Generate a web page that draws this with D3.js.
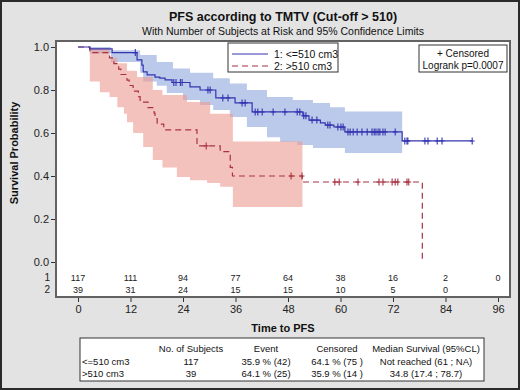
<!DOCTYPE html>
<html>
<head>
<meta charset="utf-8">
<script src="https://cdn.jsdelivr.net/npm/d3@7"></script>
<style>
  html, body { margin: 0; padding: 0; background: #fff; }
  svg { display: block; font-family: "Liberation Sans", Arial, sans-serif; }
</style>
</head>
<body>
<div id="chart"></div>
<script>
// ---- data ----
const xTicks = [0, 12, 24, 36, 48, 60, 72, 84, 96];
const yTicks = [0.0, 0.2, 0.4, 0.6, 0.8, 1.0];

const groupLabels = ['1: <=510 cm3', '2: >510 cm3'];

// group 1 (<=510 cm3) step curve
const blueT = [0, 2.7, 7.8, 13.5, 14.6, 14.9, 15.8, 17.6, 18.7, 19.9, 21.5, 25.6, 27.9, 31.5, 35.9, 39.8, 51.4, 52.8, 55.4, 56.5, 58.5, 61.0, 74.1, 90.1];
const blueS = [1.0, 0.991, 0.974, 0.940, 0.916, 0.884, 0.870, 0.860, 0.855, 0.847, 0.835, 0.815, 0.800, 0.763, 0.740, 0.698, 0.680, 0.660, 0.647, 0.637, 0.628, 0.605, 0.563, 0.563];
const blueCens = [13.1, 21.9, 22.4, 23.4, 23.8, 29.7, 30.2, 33.1, 34.3, 37.5, 38.2, 40.5, 41.1, 42.1, 44.6, 47.3, 50.1, 50.7, 51.6, 52.1, 53.5, 54.6, 57.1, 57.6, 59.4, 60.1, 60.6, 61.7, 62.2, 62.9, 63.8, 64.9, 66.1, 67.2, 67.7, 68.1, 68.6, 69.0, 69.7, 70.2, 72.5, 74.7, 75.2, 75.4, 79.3, 80.0, 82.1, 83.2, 90.1];
const blueBandT  = [2.7, 7.5, 14.2, 14.9, 18.0, 20.3, 21.7, 24.0, 25.6, 27.9, 30.9, 34.7, 38.6, 43.2, 46.2, 49.1, 50.1, 53.7, 57.6, 61.0, 74.1];
const blueBandLo = [0.97, 0.93, 0.88, 0.84, 0.82, 0.786, 0.786, 0.753, 0.753, 0.73, 0.707, 0.674, 0.628, 0.58, 0.558, 0.558, 0.544, 0.53, 0.53, 0.507, 0.507];
const blueBandHi = [1.0, 0.985, 0.963, 0.963, 0.93, 0.93, 0.90, 0.90, 0.88, 0.88, 0.855, 0.83, 0.80, 0.767, 0.767, 0.753, 0.753, 0.74, 0.72, 0.70, 0.70];

// group 2 (>510 cm3) step curve
const redT = [0, 2.7, 7.2, 8.2, 9.3, 9.8, 11.2, 11.7, 12.6, 13.8, 14.2, 16.0, 17.4, 17.6, 18.1, 19.6, 27.2, 32.5, 34.8, 35.3, 51.3, 78.7];
const redS = [1.0, 0.974, 0.949, 0.923, 0.897, 0.872, 0.846, 0.821, 0.795, 0.769, 0.744, 0.718, 0.692, 0.667, 0.641, 0.615, 0.540, 0.513, 0.440, 0.400, 0.372, 0.0];
const redCens = [29.3, 48.7, 51.2, 58.7, 59.7, 64.0, 68.8, 69.7, 71.8, 72.5, 73.1, 75.2, 75.6];
const redBandT  = [2.7, 5.0, 7.2, 9.0, 10.5, 11.2, 12.6, 13.5, 14.9, 17.1, 19.3, 22.6, 24.9, 25.6, 29.5, 30.2, 32.5, 35.4, 51.3];
const redBandLo = [0.84, 0.79, 0.767, 0.72, 0.69, 0.65, 0.60, 0.60, 0.535, 0.475, 0.44, 0.395, 0.395, 0.38, 0.367, 0.367, 0.35, 0.256, 0.256];
const redBandHi = [0.995, 0.995, 0.95, 0.925, 0.925, 0.89, 0.89, 0.86, 0.86, 0.80, 0.777, 0.777, 0.744, 0.744, 0.744, 0.69, 0.69, 0.56, 0.56];

// number at risk at each x tick
const atRisk1 = [117, 111, 94, 77, 64, 38, 16, 2, 0];
const atRisk2 = [39, 31, 24, 15, 15, 10, 5, 0];

// summary table
const tableHead = ['', 'No. of Subjects', 'Event', 'Censored', 'Median Survival (95%CL)'];
const tableRows = [
  ['<=510 cm3', '117', '35.9 % (42)', '64.1 % (75 )', 'Not reached (61 ; NA)'],
  ['>510 cm3', '39', '64.1 % (25)', '35.9 % (14 )', '34.8 (17.4 ; 78.7)']
];

// ---- drawing ----
const W = 520, H = 390;
const plot = { left: 56, top: 41, right: 510, bottom: 297 };
const blue = '#3434b0', red = '#a83240';

const svg = d3.select('#chart').append('svg').attr('width', W).attr('height', H);

svg.append('rect').attr('x', 1).attr('y', 1).attr('width', W - 2).attr('height', H - 2)
  .attr('fill', '#e3e3e3').attr('stroke', '#2a2a2a').attr('stroke-width', 2);

svg.append('text').attr('x', 283).attr('y', 21).attr('text-anchor', 'middle')
  .attr('font-size', '12.5px').attr('font-weight', 'bold').attr('fill', '#111')
  .text('PFS according to TMTV (Cut-off > 510)');
svg.append('text').attr('x', 283).attr('y', 35).attr('text-anchor', 'middle')
  .attr('font-size', '10.5px').attr('fill', '#111')
  .text('With Number of Subjects at Risk and 95% Confidence Limits');

svg.append('rect').attr('x', plot.left).attr('y', plot.top)
  .attr('width', plot.right - plot.left).attr('height', plot.bottom - plot.top)
  .attr('fill', '#fff');

const xScale = d3.scaleLinear().domain([0, 96]).range([78, 498]);
const yScale = d3.scaleLinear().domain([0, 1]).range([262, 47]);

const g = svg.append('g');

function bandPoints(t, lo, hi) {
  return t.map((d, i) => ({ t: d, lo: lo[i], hi: hi[i] }));
}
const area = d3.area().curve(d3.curveStepAfter)
  .x(d => xScale(d.t)).y0(d => yScale(d.lo)).y1(d => yScale(d.hi));

g.append('path').datum(bandPoints(blueBandT, blueBandLo, blueBandHi))
  .attr('d', area).attr('fill', '#8ea6dc').attr('fill-opacity', 0.6);
g.append('path').datum(bandPoints(redBandT, redBandLo, redBandHi))
  .attr('d', area).attr('fill', '#ec9a90').attr('fill-opacity', 0.6);

const line = d3.line().curve(d3.curveStepAfter)
  .x(d => xScale(d.t)).y(d => yScale(d.s));

function stepValue(ts, ss, t) {
  let v = ss[0];
  for (let i = 0; i < ts.length; i++) if (ts[i] <= t) v = ss[i];
  return v;
}

g.append('path').datum(redT.map((t, i) => ({ t, s: redS[i] })))
  .attr('d', line).attr('fill', 'none').attr('stroke', red)
  .attr('stroke-width', 1.2).attr('stroke-dasharray', '6,4');
g.append('path').datum(blueT.map((t, i) => ({ t, s: blueS[i] })))
  .attr('d', line).attr('fill', 'none').attr('stroke', blue).attr('stroke-width', 1.2);

function drawCensors(times, ts, ss, color) {
  g.selectAll(null).data(times).enter().append('path')
    .attr('d', t => {
      const x = xScale(t), y = yScale(stepValue(ts, ss, t));
      return `M${x},${y - 3.5}V${y + 3.5}M${x - 2.5},${y}H${x + 2.5}`;
    })
    .attr('stroke', color).attr('stroke-width', 1.1).attr('fill', 'none');
}
drawCensors(redCens, redT, redS, red);
drawCensors(blueCens, blueT, blueS, blue);

// frame
svg.append('rect').attr('x', plot.left).attr('y', plot.top)
  .attr('width', plot.right - plot.left).attr('height', plot.bottom - plot.top)
  .attr('fill', 'none').attr('stroke', '#626262').attr('stroke-width', 2);

// axes
const yAxis = svg.append('g').attr('transform', `translate(${plot.left - 1},0)`)
  .call(d3.axisLeft(yScale).tickValues(yTicks).tickFormat(d3.format('.1f')).tickSize(4).tickPadding(2));
yAxis.select('.domain').remove();
yAxis.selectAll('text').attr('font-size', '11px').attr('fill', '#222')
  .attr('font-family', '"Liberation Sans", Arial, sans-serif');
yAxis.selectAll('line').attr('stroke', '#333');

const xAxis = svg.append('g').attr('transform', `translate(0,${plot.bottom + 1})`)
  .call(d3.axisBottom(xScale).tickValues(xTicks).tickSize(4).tickPadding(3));
xAxis.select('.domain').remove();
xAxis.selectAll('text').attr('font-size', '11px').attr('fill', '#222')
  .attr('font-family', '"Liberation Sans", Arial, sans-serif');
xAxis.selectAll('line').attr('stroke', '#333');

svg.append('text').attr('transform', 'translate(18,153) rotate(-90)')
  .attr('text-anchor', 'middle').attr('font-size', '11px').attr('font-weight', 'bold')
  .attr('fill', '#111').text('Survival Probability');

svg.append('text').attr('x', 283).attr('y', 332).attr('text-anchor', 'middle')
  .attr('font-size', '11px').attr('font-weight', 'bold').attr('fill', '#111')
  .text('Time to PFS');

// at-risk rows
[[atRisk1, 281, '1'], [atRisk2, 293, '2']].forEach(([vals, y, lab]) => {
  svg.append('text').attr('x', 50).attr('y', y).attr('text-anchor', 'end')
    .attr('font-size', '10px').attr('fill', '#222').text(lab);
  svg.selectAll(null).data(vals).enter().append('text')
    .attr('x', (d, i) => xScale(xTicks[i])).attr('y', y)
    .attr('text-anchor', 'middle').attr('font-size', '9px').attr('fill', '#222')
    .text(d => d);
});

// legend: groups
const leg = svg.append('g');
leg.append('rect').attr('x', 228).attr('y', 43).attr('width', 110).attr('height', 29)
  .attr('fill', '#fff').attr('stroke', '#333').attr('stroke-width', 1);
[[blue, null, 54], [red, '6,4', 66]].forEach(([c, dash, y], i) => {
  leg.append('line').attr('x1', 232).attr('x2', 268).attr('y1', y).attr('y2', y)
    .attr('stroke', c).attr('stroke-width', 1.2).attr('stroke-dasharray', dash);
  leg.append('text').attr('x', 274).attr('y', y + 4).attr('font-size', '10.5px')
    .attr('fill', '#111').text(groupLabels[i]);
});

// legend: censored / logrank
leg.append('rect').attr('x', 419).attr('y', 45).attr('width', 88).attr('height', 27)
  .attr('fill', '#fff').attr('stroke', '#333').attr('stroke-width', 1);
leg.append('text').attr('x', 463).attr('y', 57).attr('text-anchor', 'middle')
  .attr('font-size', '10px').attr('fill', '#111').text('+ Censored');
leg.append('text').attr('x', 463).attr('y', 69).attr('text-anchor', 'middle')
  .attr('font-size', '10px').attr('fill', '#111').text('Logrank p=0.0007');

// summary table
const tbl = svg.append('g');
tbl.append('rect').attr('x', 80).attr('y', 338).attr('width', 404).attr('height', 43)
  .attr('fill', '#fff').attr('stroke', '#333').attr('stroke-width', 1);
const colX = [82, 191, 266, 337, 426];
const rowY = [352, 365, 377];
[tableHead, ...tableRows].forEach((row, r) => {
  row.forEach((cell, c) => {
    tbl.append('text').attr('x', colX[c]).attr('y', rowY[r])
      .attr('text-anchor', c === 0 ? 'start' : 'middle')
      .attr('font-size', '9.5px').attr('fill', '#111').text(cell);
  });
});
</script>
</body>
</html>
